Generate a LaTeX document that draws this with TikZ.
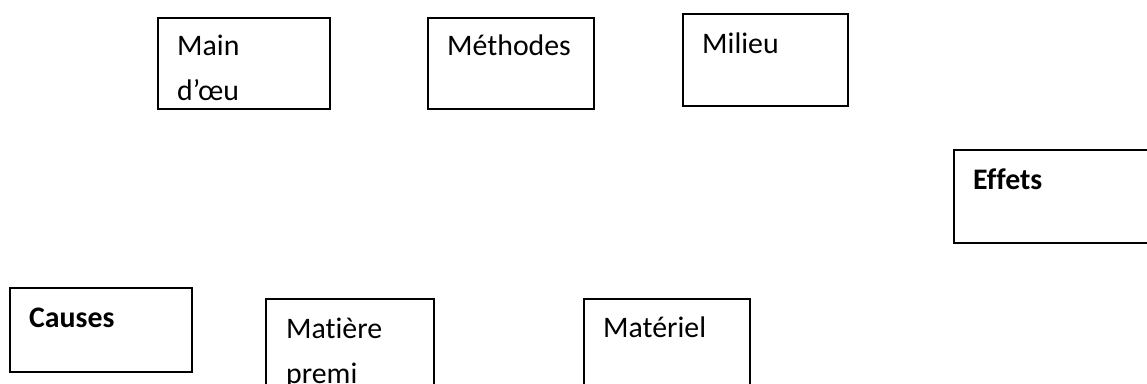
\documentclass[tikz,border=0pt]{standalone}
\usepackage{fontspec}
\setmainfont{Carlito}[Ligatures=NoCommon]
\usetikzlibrary{positioning}
\tikzset{
  every node/.style={text=black},
  box/.style={draw=black,line width=1.8pt,rectangle,inner sep=0pt,anchor=north west},
  word/.style={anchor=base west,inner sep=0pt,font=\fontsize{29.8}{45}\selectfont},
  keyword/.style={word,font=\fontsize{29.8}{45}\selectfont\bfseries},
}

\begin{document}
\begin{tikzpicture}[x=1pt,y=-1pt]
\useasboundingbox (0,0) rectangle (1147,383);
\clip (0,0) rectangle (1147,383);

% the five families of causes
\node[box,minimum width=172,minimum height=91] (main) at (157,17) {};
\node[word] (mainA) at ([shift={(20,38)}]main.north west) {Main};
\node[word,below=45pt of mainA.base west,anchor=base west] (mainB) {d’œu};

\node[box,minimum width=166,minimum height=91] (meth) at (427,17) {};
\node[word] (methA) at ([shift={(20,38)}]meth.north west) {Méthodes};

\node[box,minimum width=165,minimum height=92] (mil) at (682,13) {};
\node[word] (milA) at ([shift={(20,40)}]mil.north west) {Milieu};

\node[box,minimum width=168,minimum height=100] (mat) at (265,298) {};
\node[word] (matA) at ([shift={(21,40)}]mat.north west) {Matière};
\node[word,below=45pt of matA.base west,anchor=base west] (matB) {premi};

\node[box,minimum width=166,minimum height=100] (mtl) at (583,298) {};
\node[word] (mtlA) at ([shift={(20,39)}]mtl.north west) {Matériel};

% causes / effets headings
\node[box,minimum width=182,minimum height=84] (causes) at (9,287) {};
\node[keyword] (causesA) at ([shift={(20,40)}]causes.north west) {Causes};

\node[box,minimum width=220,minimum height=93] (effets) at (953,149) {};
\node[keyword] (effetsA) at ([shift={(20,40)}]effets.north west) {Effets};

\end{tikzpicture}
\end{document}
